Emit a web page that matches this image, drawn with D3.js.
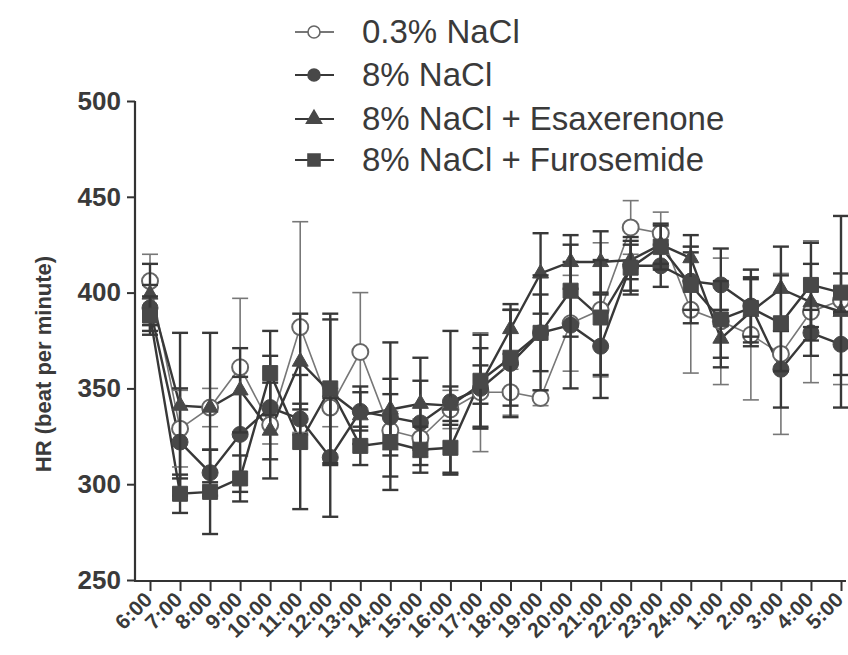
<!DOCTYPE html>
<html lang="en">
<head>
<meta charset="utf-8">
<title>HR chart</title>
<script src="https://cdn.jsdelivr.net/npm/d3@7"></script>
<style>
  body { margin: 0; background: #fff; }
  text { font-family: Arial, "Liberation Sans", sans-serif; fill: #3a3a3a; }
</style>
</head>
<body>
<script>
var w = 848, h = 655;

var hours = ["6:00","7:00","8:00","9:00","10:00","11:00","12:00","13:00","14:00","15:00","16:00","17:00",
             "18:00","19:00","20:00","21:00","22:00","23:00","24:00","1:00","2:00","3:00","4:00","5:00"];
var yTicks = [250, 300, 350, 400, 450, 500];

var seriesNames = ["0.3% NaCl", "8% NaCl", "8% NaCl + Esaxerenone", "8% NaCl + Furosemide"];

// means
var lowSalt   = [406, 329, 340, 361, 331, 382, 340, 369, 328, 324, 339, 348, 348, 345, 384, 391, 434, 431, 391, 385, 378, 368, 390, 396];
var highSalt  = [392, 322, 306, 326, 340, 334, 314, 338, 335, 332, 343, 350, 363, 379, 383, 372, 414, 414, 406, 404, 393, 360, 379, 373];
var esax      = [399, 341, 340, 349, 328, 364, 348, 336, 339, 342, 341, 352, 381, 410, 416, 416, 417, 425, 418, 376, 390, 402, 395, 390];
var furo      = [388, 295, 296, 303, 358, 322, 350, 320, 322, 318, 319, 354, 366, 379, 401, 387, 413, 424, 404, 386, 392, 384, 404, 400];

// SEM
var lowSaltErr  = [14, 20, 10, 36, 10, 55, 10, 31, 10, 10, 10, 31, 12, 4, 25, 35, 14, 11, 33, 33, 34, 42, 37, 44];
var highSaltErr = [12, 28, 12, 30, 27, 8, 31, 10, 20, 22, 37, 21, 28, 20, 33, 27, 15, 11, 15, 19, 19, 20, 12, 16];
var esaxErr     = [16, 38, 39, 22, 25, 25, 38, 15, 35, 24, 10, 10, 13, 21, 14, 16, 10, 10, 12, 15, 18, 22, 20, 50];
var furoErr     = [10, 10, 22, 12, 22, 35, 39, 10, 25, 12, 14, 24, 25, 30, 24, 30, 12, 12, 20, 20, 15, 25, 22, 10];

var series = [
  {name: seriesNames[0], vals: lowSalt,  err: lowSaltErr,  shape: "circle", fill: "#fff",    stroke: "#666", line: "#777", lw: 1.6},
  {name: seriesNames[1], vals: highSalt, err: highSaltErr, shape: "circle", fill: "#484848", stroke: "#484848", line: "#383838", lw: 2.4},
  {name: seriesNames[2], vals: esax,     err: esaxErr,     shape: "triangle", fill: "#484848", stroke: "#484848", line: "#383838", lw: 2.4},
  {name: seriesNames[3], vals: furo,     err: furoErr,     shape: "square", fill: "#484848", stroke: "#484848", line: "#383838", lw: 2.4}
];

var svg = d3.select("body").append("svg")
  .attr("width", w).attr("height", h);

var x = d3.scalePoint().domain(hours).range([150, 841]);
var y = d3.scaleLinear().domain([250, 500]).range([580, 101]);

// y axis
var yAxis = svg.append("g")
  .attr("transform", "translate(135,0)")
  .call(d3.axisLeft(y).tickValues(yTicks).tickSize(8).tickPadding(6));
yAxis.select(".domain").attr("stroke", "#333").attr("stroke-width", 2.2).attr("d", "M0,101V581");
yAxis.selectAll(".tick line").attr("stroke", "#333").attr("stroke-width", 2);
yAxis.selectAll(".tick text")
  .style("font-size", "26px").style("font-weight", "bold").attr("fill", "#3a3a3a");

// x axis
var xAxis = svg.append("g")
  .attr("transform", "translate(0,581)")
  .call(d3.axisBottom(x).tickSize(10).tickSizeOuter(0));
xAxis.select(".domain").attr("stroke", "#333").attr("stroke-width", 2.2).attr("d", "M134,0H846");
xAxis.selectAll(".tick line").attr("stroke", "#333").attr("stroke-width", 2);
xAxis.selectAll(".tick text")
  .style("font-size", "21px").style("font-weight", "bold").attr("fill", "#3a3a3a")
  .attr("text-anchor", "end")
  .attr("dy", null).attr("y", 0)
  .attr("transform", "translate(3,20) rotate(-45)");

// y title
svg.append("text")
  .attr("transform", "translate(51,364) rotate(-90)")
  .attr("text-anchor", "middle")
  .style("font-size", "22px").style("font-weight", "bold")
  .text("HR (beat per minute)");

function symbolPath(shape, size) {
  if (shape === "square") return d3.symbol(d3.symbolSquare, size * size)();
  if (shape === "triangle") return d3.symbol(d3.symbolTriangle, size * size * 0.43)();
  return d3.symbol(d3.symbolCircle, Math.PI * size * size / 4)();
}

var line = d3.line()
  .x(function(d, i) { return x(hours[i]); })
  .y(function(d) { return y(d); });

// lines
series.forEach(function(s) {
  svg.append("path")
    .attr("d", line(s.vals))
    .attr("fill", "none")
    .attr("stroke", s.line)
    .attr("stroke-width", s.lw);
});

// error bars + markers
series.forEach(function(s) {
  var g = svg.append("g");
  var eb = g.selectAll(".eb").data(s.vals).enter().append("g");
  eb.append("line")
    .attr("x1", function(d, i) { return x(hours[i]); })
    .attr("x2", function(d, i) { return x(hours[i]); })
    .attr("y1", function(d, i) { return y(d + s.err[i]); })
    .attr("y2", function(d, i) { return y(d - s.err[i]); })
    .attr("stroke", s.line).attr("stroke-width", s.lw);
  [1, -1].forEach(function(sign) {
    eb.append("line")
      .attr("x1", function(d, i) { return x(hours[i]) - 8; })
      .attr("x2", function(d, i) { return x(hours[i]) + 8; })
      .attr("y1", function(d, i) { return y(d + sign * s.err[i]); })
      .attr("y2", function(d, i) { return y(d + sign * s.err[i]); })
      .attr("stroke", s.line).attr("stroke-width", s.lw);
  });
  g.selectAll(".mk").data(s.vals).enter().append("path")
    .attr("d", symbolPath(s.shape, s.shape === "square" ? 15 : 16))
    .attr("transform", function(d, i) { return "translate(" + x(hours[i]) + "," + y(d) + ")"; })
    .attr("fill", s.fill)
    .attr("stroke", s.stroke)
    .attr("stroke-width", s.shape === "circle" && s.fill === "#fff" ? 2 : 1);
});

// legend
var legendY = [32, 75, 119, 160];
var legend = svg.selectAll(".legend").data(series).enter().append("g")
  .attr("transform", function(d, i) { return "translate(0," + legendY[i] + ")"; });
legend.append("line")
  .attr("x1", 295).attr("x2", 334).attr("y1", 0).attr("y2", 0)
  .attr("stroke", function(d) { return d.line; }).attr("stroke-width", 2);
legend.append("path")
  .attr("d", function(d) { return symbolPath(d.shape, d.shape === "triangle" ? 15 : 12); })
  .attr("transform", "translate(314,0)")
  .attr("fill", function(d) { return d.fill; })
  .attr("stroke", function(d) { return d.stroke; })
  .attr("stroke-width", 1.6);
legend.append("text")
  .attr("x", 362).attr("y", 11)
  .style("font-size", "33px")
  .text(function(d) { return d.name; });
</script>
</body>
</html>
